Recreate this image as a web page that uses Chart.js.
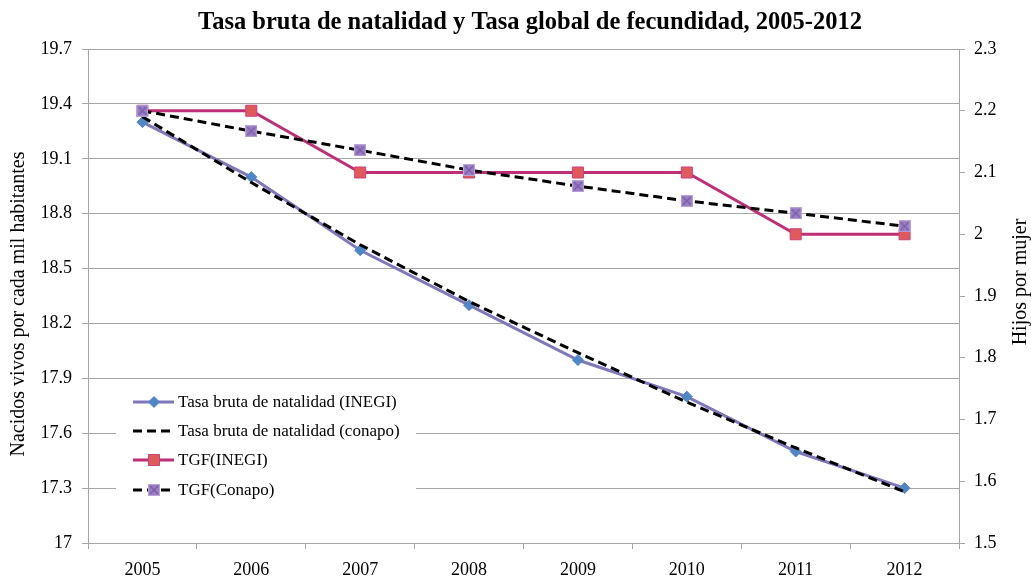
<!DOCTYPE html>
<html>
<head>
<meta charset="utf-8">
<script src="https://cdn.jsdelivr.net/npm/chart.js@4/dist/chart.umd.min.js"></script>
<style>
  html, body { margin: 0; padding: 0; background: #fff; }
  #wrap { width: 1031px; height: 579px; position: relative; }
</style>
</head>
<body>
<div id="wrap"><canvas id="chart"></canvas></div>
<script>
const years = ['2005','2006','2007','2008','2009','2010','2011','2012'];

// tasa bruta de natalidad (left axis)
const tbnInegi  = [19.3, 19.0, 18.6, 18.3, 18.0, 17.8, 17.5, 17.3];
const tbnConapo = [19.33, 18.97, 18.63, 18.32, 18.04, 17.77, 17.52, 17.28];

// tasa global de fecundidad (right axis)
const tgfInegi  = [2.2, 2.2, 2.1, 2.1, 2.1, 2.1, 2.0, 2.0];
const tgfConapo = [2.2, 2.167, 2.136, 2.104, 2.078, 2.054, 2.034, 2.013];

const leftTicks  = [17, 17.3, 17.6, 17.9, 18.2, 18.5, 18.8, 19.1, 19.4, 19.7];
const rightTicks = [1.5, 1.6, 1.7, 1.8, 1.9, 2.0, 2.1, 2.2, 2.3];

const titleText = 'Tasa bruta de natalidad y Tasa global de fecundidad, 2005-2012';
const leftTitle = 'Nacidos vivos por cada mil habitantes';
const rightTitle = 'Hijos por mujer';

const SERIF = '"Liberation Serif", "Times New Roman", serif';
const GRID = '#a6a6a6';

// purple square with an x, like the excel marker
function xSquare(){
  const c = document.createElement('canvas');
  c.width = 12; c.height = 12;
  const g = c.getContext('2d');
  g.fillStyle = '#9a7fc4';
  g.fillRect(0, 0, 12, 12);
  g.strokeStyle = '#7a5ca8';
  g.lineWidth = 1.3;
  g.beginPath();
  g.moveTo(2, 2); g.lineTo(10, 10);
  g.moveTo(10, 2); g.lineTo(2, 10);
  g.stroke();
  g.strokeStyle = '#b9a3d9';
  g.lineWidth = 1;
  g.strokeRect(0.5, 0.5, 11, 11);
  return c;
}
const xMark = xSquare();

function vText(ctx, text, x, y){
  ctx.save();
  ctx.translate(x, y);
  ctx.rotate(-Math.PI / 2);
  ctx.fillText(text, 0, 0);
  ctx.restore();
}

const decorations = {
  id: 'decorations',
  beforeDatasetsDraw(chart){
    const ctx = chart.ctx;
    ctx.save();
    ctx.fillStyle = '#fff';
    ctx.fillRect(116, 386, 300, 118);
    ctx.restore();
  },
  afterDraw(chart){
    const ctx = chart.ctx;
    ctx.save();
    ctx.fillStyle = '#000';
    ctx.textAlign = 'center';
    ctx.textBaseline = 'middle';

    ctx.font = 'bold 24.5px ' + SERIF;
    ctx.fillText(titleText, 530, 23);

    // axis titles both read bottom-to-top
    ctx.font = '20px ' + SERIF;
    vText(ctx, leftTitle, 19, 304);
    vText(ctx, rightTitle, 1021, 282);

    // legend
    ctx.font = '17px ' + SERIF;
    ctx.textAlign = 'left';
    const rows = [402, 431, 460, 490];
    chart.data.datasets.forEach((ds, i) => {
      const y = rows[i];
      ctx.save();
      ctx.strokeStyle = ds.borderColor;
      ctx.lineWidth = ds.borderWidth;
      ctx.setLineDash(ds.borderDash || []);
      ctx.beginPath();
      ctx.moveTo(133, y); ctx.lineTo(174, y);
      ctx.stroke();
      ctx.restore();
      if(ds.pointRadius > 0){
        ctx.save();
        ctx.fillStyle = ds.pointBackgroundColor;
        ctx.strokeStyle = ds.pointBorderColor;
        Chart.helpers.drawPoint(ctx, {
          pointStyle: ds.pointStyle, radius: ds.pointRadius,
          borderWidth: ds.pointBorderWidth, rotation: 0
        }, 154, y);
        ctx.restore();
      }
      ctx.fillStyle = '#000';
      ctx.fillText(ds.label, 178, y + 1);
    });
    ctx.restore();
  }
};

const chart = new Chart(document.getElementById('chart'), {
  type: 'line',
  data: {
    labels: years,
    datasets: [
      {
        label: 'Tasa bruta de natalidad (INEGI)',
        data: tbnInegi, yAxisID: 'y',
        borderColor: '#7f78bb', borderWidth: 3,
        pointStyle: 'rectRot', pointRadius: 5.5,
        pointBackgroundColor: '#4f86c6', pointBorderColor: '#4f86c6', pointBorderWidth: 1,
        order: 4
      },
      {
        label: 'Tasa bruta de natalidad (conapo)',
        data: tbnConapo, yAxisID: 'y',
        borderColor: '#000', borderWidth: 3, borderDash: [9, 5],
        pointRadius: 0,
        order: 3
      },
      {
        label: 'TGF(INEGI)',
        data: tgfInegi, yAxisID: 'y1',
        borderColor: '#bf2f78', borderWidth: 3,
        pointStyle: 'rect', pointRadius: 7.8,
        pointBackgroundColor: '#e05a5c', pointBorderColor: '#c8407a', pointBorderWidth: 1,
        order: 2
      },
      {
        label: 'TGF(Conapo)',
        data: tgfConapo, yAxisID: 'y1',
        borderColor: '#000', borderWidth: 3, borderDash: [9, 5],
        pointStyle: xMark, pointRadius: 6,
        pointBackgroundColor: '#9a7fc4', pointBorderColor: '#9a7fc4', pointBorderWidth: 0,
        order: 1
      }
    ]
  },
  options: {
    responsive: true,
    maintainAspectRatio: false,
    animation: false,
    layout: { padding: { top: 49, left: 0, right: 0, bottom: 0 } },
    plugins: { legend: { display: false }, tooltip: { enabled: false } },
    elements: { line: { tension: 0 } },
    scales: {
      x: {
        offset: true,
        grid: { offset: true, drawOnChartArea: false, color: GRID, tickLength: 6 },
        border: { color: GRID },
        ticks: { color: '#000', font: { family: SERIF, size: 18 }, padding: 10, maxRotation: 0 },
        afterFit(s){ s.height = 36; }
      },
      y: {
        position: 'left',
        min: 17, max: 19.7,
        afterBuildTicks(s){ s.ticks = leftTicks.map(v => ({ value: v })); },
        grid: { color: GRID, tickLength: 6 },
        border: { color: GRID },
        ticks: { color: '#000', font: { family: SERIF, size: 18 }, padding: 10,
                 callback: v => String(+v.toFixed(1)) },
        afterFit(s){ s.width = 88; }
      },
      y1: {
        position: 'right',
        min: 1.5, max: 2.3,
        afterBuildTicks(s){ s.ticks = rightTicks.map(v => ({ value: v })); },
        grid: { drawOnChartArea: false, color: GRID, tickLength: 6 },
        border: { color: GRID },
        ticks: { color: '#000', font: { family: SERIF, size: 18 }, padding: 9,
                 callback: v => String(+v.toFixed(1)) },
        afterFit(s){ s.width = 72; }
      }
    }
  },
  plugins: [decorations]
});
</script>
</body>
</html>
